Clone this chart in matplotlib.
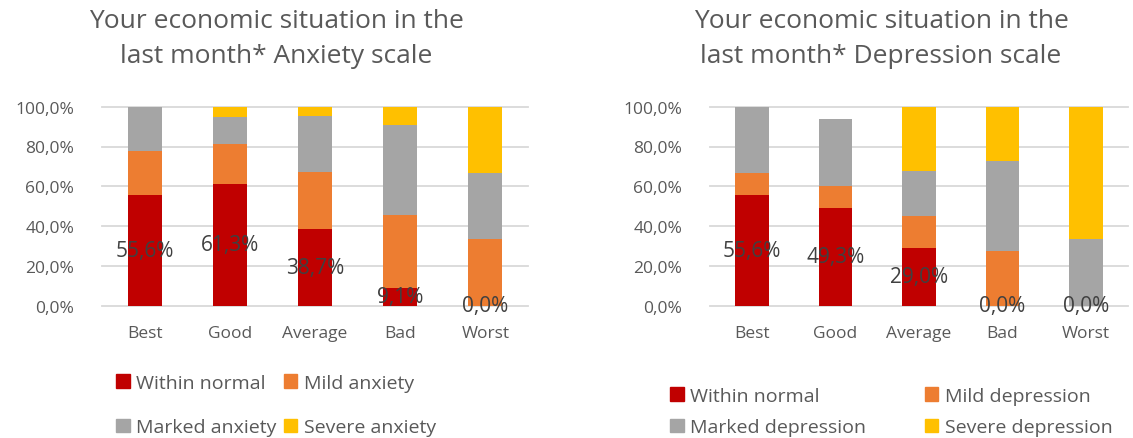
import matplotlib
matplotlib.use("Agg")
import matplotlib.pyplot as plt
from matplotlib.patches import Patch
from matplotlib.ticker import FuncFormatter

categories = ["Best", "Good", "Average", "Bad", "Worst"]

anx_labels = ["Within normal", "Mild anxiety", "Marked anxiety", "Severe anxiety"]
anx_normal = [55.6, 61.3, 38.7, 9.1, 0.0]
anx_mild = [22.2, 20.0, 28.6, 36.4, 33.3]
anx_marked = [22.2, 13.3, 28.0, 45.5, 33.3]
anx_severe = [0.0, 5.3, 4.7, 9.1, 33.4]

dep_labels = ["Within normal", "Mild depression", "Marked depression", "Severe depression"]
dep_normal = [55.6, 49.3, 29.0, 0.0, 0.0]
dep_mild = [11.1, 10.7, 16.1, 27.3, 0.0]
dep_marked = [33.3, 33.8, 22.6, 45.5, 33.3]
dep_severe = [0.0, 0.0, 32.3, 27.3, 66.7]

yticks = [0, 20, 40, 60, 80, 100]

colors = ["#C00000", "#ED7D31", "#A5A5A5", "#FFC000"]
text_col = "#595959"
label_col = "#404040"
grid_col = "#D9D9D9"

plt.rcParams['font.family'] = ['Open Sans', 'DejaVu Sans']

fig = plt.figure(figsize=(11.33, 4.39), dpi=100)

def fmt(v, pos=None):
    return f"{v:.1f}".replace(".", ",") + "%"

def draw(ax, series, title, title_x):
    bottom = [0.0] * len(categories)
    x = list(range(len(categories)))
    for vals, col in zip(series, colors):
        ax.bar(x, vals, bottom=bottom, width=0.4, color=col, zorder=3)
        bottom = [b + v for b, v in zip(bottom, vals)]
    for xi, v in zip(x, series[0]):
        ax.text(xi, v / 2, fmt(v), ha="center", va="center",
                fontsize=15, color=label_col, zorder=4)
    ax.set_xlim(-0.5, len(categories) - 0.5)
    ax.set_ylim(0, 100)
    ax.set_yticks(yticks)
    ax.yaxis.set_major_formatter(FuncFormatter(fmt))
    ax.set_xticks(x)
    ax.set_xticklabels(categories)
    ax.tick_params(axis="both", length=0, labelsize=12.5, colors=text_col)
    ax.tick_params(axis="x", pad=14)
    ax.tick_params(axis="y", pad=20)
    ax.grid(axis="y", color=grid_col, linewidth=1.3, zorder=0)
    ax.set_axisbelow(True)
    for s in ax.spines.values():
        s.set_visible(False)
    for sp in ax.get_ygridlines():
        sp.set_clip_on(False)
    fig.text(title_x, 1 - 39 / 439, title, ha="center", va="center",
             fontsize=19, color=text_col, linespacing=1.55)

ax1 = fig.add_axes([102 / 1133, 1 - 306.7 / 439, 426 / 1133, 199 / 439])
ax2 = fig.add_axes([710 / 1133, 1 - 306.7 / 439, 418 / 1133, 199 / 439])

draw(ax1, [anx_normal, anx_mild, anx_marked, anx_severe],
     "Your economic situation in the\nlast month* Anxiety scale", 276 / 1133)
draw(ax2, [dep_normal, dep_mild, dep_marked, dep_severe],
     "Your economic situation in the\nlast month* Depression scale", 881 / 1133)

def legend(labels, x, y, colsp, rowsp):
    handles = [Patch(color=c, label=l) for c, l in zip(colors, labels)]
    order = [0, 2, 1, 3]
    handles = [handles[i] for i in order]
    fig.legend(handles=handles, loc="upper left", bbox_to_anchor=(x, y),
               ncol=2, frameon=False, fontsize=14, labelcolor=text_col,
               handlelength=0.7, handleheight=0.7, handletextpad=0.35,
               columnspacing=colsp, labelspacing=rowsp, borderpad=0,
               borderaxespad=0)

legend(anx_labels, 116 / 1133, 1 - 375 / 439, 0.35, 1.35)
legend(dep_labels, 670 / 1133, 1 - 388 / 439, 3.0, 0.68)

fig.savefig("out.png", dpi=100)
